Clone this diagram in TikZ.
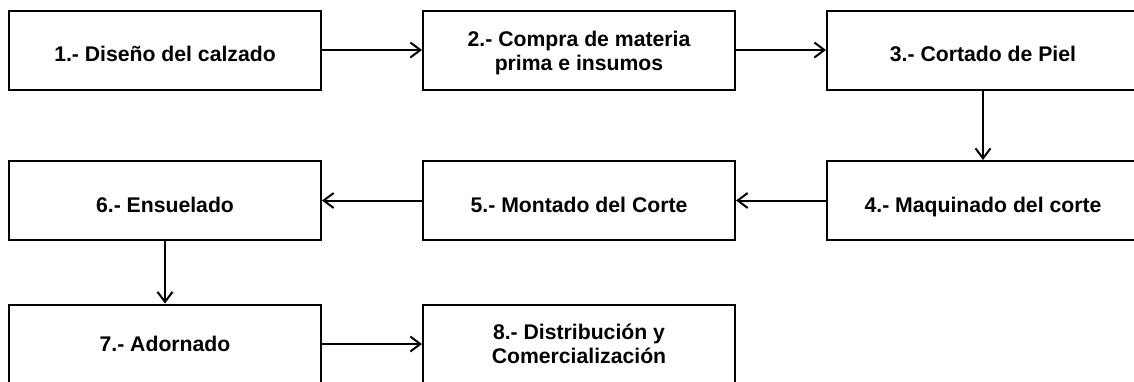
\documentclass[tikz,border=0pt]{standalone}
\usepackage{fontspec}
\setmainfont{Liberation Sans}
\usetikzlibrary{arrows.meta}
\newcommand\bajo{\rule[-3.6pt]{0pt}{18.8pt}}

\begin{document}
\begin{tikzpicture}[x=0.5pt,y=-0.5pt,
        paso/.style={draw,line width=1pt,minimum width=156pt,minimum height=39.5pt,inner sep=0pt,align=center,font=\fontsize{10.6}{12}\selectfont\bfseries},
        flecha/.style={line width=1pt,-{Straight Barb[length=5pt,width=7.5pt,line width=1pt]}}]
        \useasboundingbox(0,0)rectangle(1134,381);

        \node[paso](p1)at(165,50){\bajo 1.- Diseño del calzado};
        \node[paso](p2)at(579,50){\rule{0pt}{10.7pt}2.- Compra de materia\\prima e insumos};
        \node[paso](p3)at(983,50){\bajo 3.- Cortado de Piel};
        \node[paso](p4)at(983,200.5){\bajo 4.- Maquinado del corte};
        \node[paso](p5)at(579,200.5){\bajo 5.- Montado del Corte};
        \node[paso](p6)at(165,200.5){\bajo 6.- Ensuelado};
        \node[paso](p7)at(165,344){7.- Adornado};
        \node[paso](p8)at(579,344){8.- Distribución y\\Comercialización};

        \draw[flecha](p1)--(p2);
        \draw[flecha](p2)--(p3);
        \draw[flecha](p3)--(p4);
        \draw[flecha](p4)--(p5);
        \draw[flecha](p5)--(p6);
        \draw[flecha](p6)--(p7);
        \draw[flecha](p7)--(p8);
    \end{tikzpicture}
\end{document}
